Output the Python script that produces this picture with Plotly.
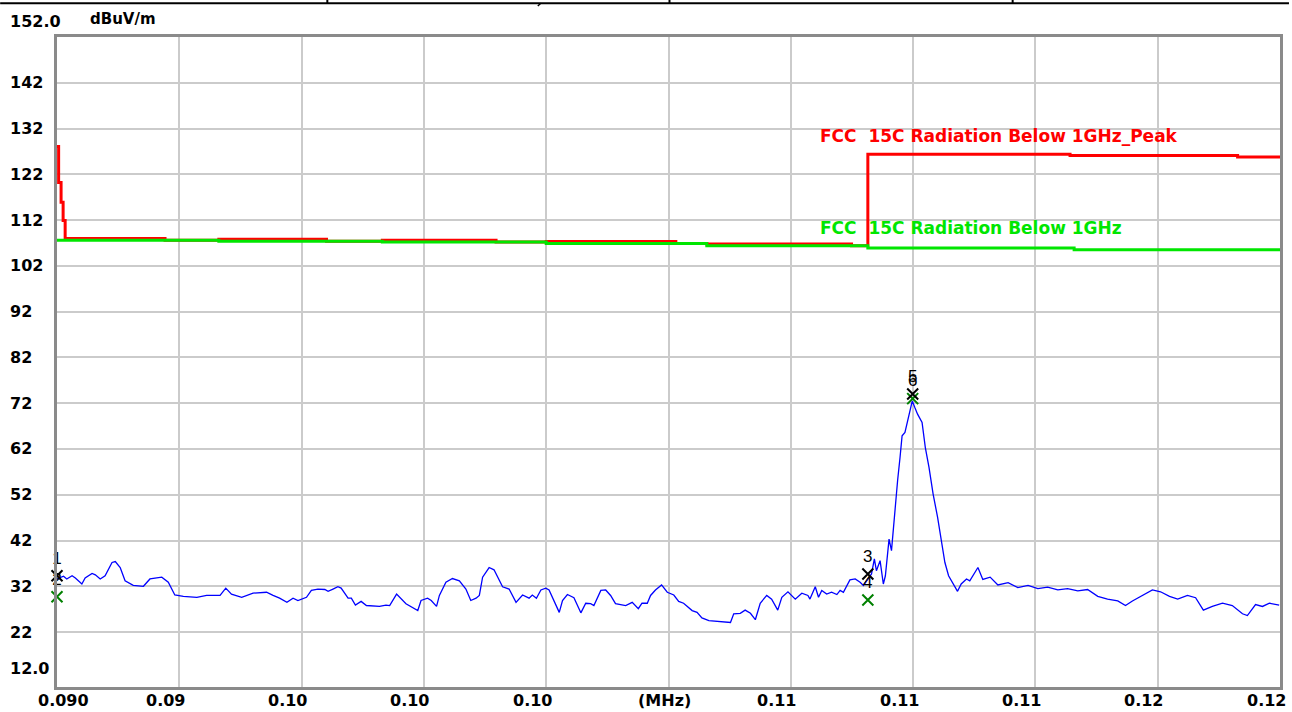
import plotly.graph_objects as go

# ---------------- data ----------------
trace_freq_khz = [
    90.00, 90.16, 90.24, 90.37, 90.45, 90.61, 90.69, 90.86, 90.94, 91.06, 91.18, 91.35, 91.43, 91.55,
    91.67, 91.87, 92.12, 92.28, 92.57, 92.73, 92.89, 93.10, 93.43, 93.67, 94.00, 94.14, 94.28, 94.53,
    94.81, 95.14, 95.30, 95.46, 95.64, 95.79, 95.91, 96.12, 96.24, 96.40, 96.57, 96.65, 96.77, 96.89,
    96.97, 97.14, 97.22, 97.32, 97.46, 97.59, 97.91, 98.07, 98.16, 98.33, 98.56, 98.85, 98.93, 99.09,
    99.18, 99.31, 99.38, 99.54, 99.70, 99.87, 100.03, 100.15, 100.28, 100.36, 100.44, 100.60, 100.72,
    100.85, 100.93, 101.09, 101.26, 101.42, 101.58, 101.66, 101.76, 101.87, 101.99, 102.07, 102.19,
    102.32, 102.40, 102.52, 102.68, 102.85, 102.97, 103.09, 103.17, 103.34, 103.46, 103.58, 103.70,
    103.95, 104.11, 104.26, 104.35, 104.48, 104.56, 104.68, 104.83, 104.97, 105.13, 105.25, 105.37,
    105.58, 105.70, 105.82, 105.99, 106.31, 106.52, 106.60, 106.76, 106.88, 107.01, 107.13, 107.25,
    107.41, 107.53, 107.68, 107.78, 107.93, 108.11, 108.27, 108.42, 108.47, 108.60, 108.68, 108.76,
    108.88, 109.00, 109.13, 109.21, 109.29, 109.45, 109.58, 109.70, 109.78, 109.90, 109.98, 110.05,
    110.10, 110.19, 110.27, 110.32, 110.41, 110.47, 110.55, 110.62, 110.68, 110.73, 110.80, 110.86,
    110.92, 110.98, 111.04, 111.11, 111.22, 111.30, 111.39, 111.49, 111.60, 111.69, 111.78, 111.87,
    111.98, 112.09, 112.18, 112.31, 112.39, 112.51, 112.59, 112.71, 112.89, 113.08, 113.33, 113.57,
    113.82, 114.06, 114.30, 114.55, 114.79, 115.04, 115.28, 115.53, 115.77, 116.02, 116.21, 116.38,
    116.63, 116.87, 117.07, 117.29, 117.49, 117.73, 117.93, 118.12, 118.34, 118.59, 118.83, 119.08,
    119.20, 119.40, 119.57, 119.74, 119.98,
]
trace_level = [
    33.6, 34.2, 33.6, 34.3, 33.8, 32.5, 33.8, 34.8, 34.5, 33.6, 34.3, 37.2, 37.4, 36.1,
    33.2, 32.2, 32.0, 33.6, 34.0, 32.9, 30.1, 29.8, 29.6, 30.0, 30.0, 31.6, 30.3, 29.6,
    30.5, 30.7, 30.0, 29.4, 28.5, 29.4, 28.9, 29.6, 31.1, 31.4, 31.3, 30.9, 31.4, 31.9,
    31.6, 29.4, 29.4, 27.9, 28.7, 27.8, 27.6, 27.9, 27.8, 30.3, 28.2, 26.7, 28.9, 29.4,
    28.9, 27.6, 30.0, 32.9, 33.7, 33.2, 31.4, 28.9, 29.4, 30.0, 34.0, 36.1, 35.6,
    33.2, 31.9, 31.4, 28.5, 30.1, 29.4, 30.1, 29.4, 31.2, 31.6, 31.2, 29.0,
    26.3, 28.9, 30.2, 29.5, 26.2, 28.3, 28.2, 27.8, 31.1, 31.2, 30.0, 28.2,
    27.8, 28.5, 27.1, 28.3, 28.3, 30.0, 31.2, 32.3, 30.7, 30.1, 28.7, 28.3,
    26.7, 26.3, 25.1, 24.5, 24.3, 24.1, 26.0, 26.1, 26.8, 26.1, 24.7, 28.3,
    30.0, 29.2, 26.8, 29.6, 30.8, 29.2, 30.5, 30.0, 29.2, 31.9, 29.6, 31.1,
    30.3, 30.7, 30.2, 31.1, 30.7, 33.4, 33.6, 32.9, 32.2, 33.6, 34.7, 38.0,
    35.4, 37.6, 32.5, 34.3, 42.3, 39.8, 48.5, 55.1, 60.2, 64.9, 65.6, 67.8,
    70.4, 72.5, 71.1, 69.6, 67.8, 62.3, 58.0, 52.2, 47.1, 42.3, 37.2, 34.3,
    32.5, 30.9, 32.5, 33.6, 33.2, 35.1, 36.1, 33.5, 34.0, 32.3, 32.8, 31.7,
    32.2, 31.5, 31.8, 31.2, 31.5, 31.0, 31.3, 29.8, 29.2, 28.8, 27.8, 28.8,
    30.0, 31.2, 30.8, 29.8, 29.2, 30.0, 29.5, 26.8, 27.6, 28.3, 27.8, 26.0,
    25.6, 28.0, 27.6, 28.3, 27.9,
]

limit_peak_freq_khz = [90.00, 90.04, 90.10, 90.15, 90.20, 92.65, 93.97, 96.61, 97.98, 100.77,
                       102.00, 105.18, 105.94, 109.49, 109.89, 114.85, 118.96, 120.00]
limit_peak_level = [128.1, 120.2, 115.9, 111.9, 108.0, 107.6, 107.8, 107.4, 107.6, 107.2,
                    107.3, 106.9, 106.8, 106.4, 126.4, 126.1, 125.8, 125.8]

limit_avg_freq_khz = [90.00, 93.97, 97.98, 102.00, 105.94, 109.89, 114.95, 120.00]
limit_avg_level = [107.6, 107.4, 107.2, 106.9, 106.4, 105.9, 105.5, 105.5]

peak_marker_ids = ["1", "3", "5"]
peak_marker_freq_khz = [90.00, 109.89, 110.99]
peak_marker_level = [34.3, 34.7, 74.0]

qp_marker_ids = ["2", "4", "6"]
qp_marker_freq_khz = [90.00, 109.89, 110.99]
qp_marker_level = [29.7, 29.0, 73.0]

x_tick_khz = [90, 93, 96, 99, 102, 105, 108, 111, 114, 117, 120]
x_tick_labels = ["0.090", "0.09", "0.10", "0.10", "0.10", "(MHz)", "0.11", "0.11", "0.11", "0.12", "0.12"]
y_tick_values = [152, 142, 132, 122, 112, 102, 92, 82, 72, 62, 52, 42, 32, 22, 12]
y_tick_labels = ["152.0", "142", "132", "122", "112", "102", "92", "82", "72", "62", "52", "42", "32", "22", "12.0"]
y_unit = "dBuV/m"
peak_limit_name = "FCC  15C Radiation Below 1GHz_Peak"
avg_limit_name = "FCC  15C Radiation Below 1GHz"

# ---------------- layout helpers ----------------
W, H = 1292, 712
L, R, T, B = 57, 9, 37, 25
PW, PH = W - L - R, H - T - B


def px_x(px):
    return (px - L) / PW


def px_y(py):
    return (T + PH - py) / PH


def mhz(vals):
    return [v / 1000.0 for v in vals]


FONT = "DejaVu Sans"
RED = "#ff0000"
GREEN = "#00e600"

fig = go.Figure()

fig.add_trace(go.Scatter(x=mhz(limit_peak_freq_khz), y=limit_peak_level, mode="lines",
                         line=dict(color=RED, width=3, shape="hv"), hoverinfo="skip"))
fig.add_trace(go.Scatter(x=mhz(limit_avg_freq_khz), y=limit_avg_level, mode="lines",
                         line=dict(color=GREEN, width=3, shape="hv"), hoverinfo="skip"))
fig.add_trace(go.Scatter(x=mhz(trace_freq_khz), y=trace_level, mode="lines",
                         line=dict(color="#0000ff", width=1.3)))
fig.add_trace(go.Scatter(x=mhz(qp_marker_freq_khz), y=qp_marker_level, mode="markers+text",
                         text=qp_marker_ids, textposition="top center",
                         textfont=dict(family="Liberation Sans", size=17, color="black"),
                         marker=dict(symbol="x-thin", size=11, line=dict(color="#008000", width=2)),
                         cliponaxis=False))
fig.add_trace(go.Scatter(x=mhz(peak_marker_freq_khz), y=peak_marker_level, mode="markers+text",
                         text=peak_marker_ids, textposition="top center",
                         textfont=dict(family="Liberation Sans", size=17, color="black"),
                         marker=dict(symbol="x-thin", size=11, line=dict(color="black", width=2)),
                         cliponaxis=False))

annotations = []
# y labels (left aligned at the page edge)
for v, lab in zip(y_tick_values, y_tick_labels):
    ys = 0
    if lab == "152.0":
        ys = 16
    elif lab == "12.0":
        ys = 9
    annotations.append(dict(x=px_x(8), xref="paper", y=v, yref="y", yshift=ys,
                            text=lab, showarrow=False, xanchor="left", yanchor="middle",
                            font=dict(family=FONT, size=16, color="black", weight="bold")))
annotations.append(dict(x=px_x(88), xref="paper", y=px_y(19), yref="paper", text=y_unit,
                        showarrow=False, xanchor="left", yanchor="middle",
                        font=dict(family=FONT, size=15, color="black", weight="bold")))
# x labels
for i, (f, lab) in enumerate(zip(x_tick_khz, x_tick_labels)):
    if i == 0:
        xa, xs = "left", -21
    elif lab == "(MHz)":
        xa, xs = "center", -4
    else:
        xa, xs = "center", -14
    annotations.append(dict(x=f / 1000.0, xref="x", y=px_y(700), yref="paper", xshift=xs,
                            text=lab, showarrow=False, xanchor=xa, yanchor="middle",
                            font=dict(family=FONT, size=16, color="black", weight="bold")))
# limit names
annotations.append(dict(x=px_x(820), xref="paper", y=px_y(136), yref="paper", text=peak_limit_name,
                        showarrow=False, xanchor="left", yanchor="middle",
                        font=dict(family=FONT, size=17, color=RED, weight="bold")))
annotations.append(dict(x=px_x(820), xref="paper", y=px_y(228), yref="paper", text=avg_limit_name,
                        showarrow=False, xanchor="left", yanchor="middle",
                        font=dict(family=FONT, size=17, color=GREEN, weight="bold")))

shapes = [
    dict(type="line", xref="paper", yref="paper", x0=px_x(0), x1=px_x(W), y0=px_y(3.3), y1=px_y(3.3),
         line=dict(color="black", width=2)),
]
for vx in [328, 671, 1015]:
    shapes.append(dict(type="line", xref="paper", yref="paper", x0=px_x(vx), x1=px_x(vx),
                       y0=px_y(0), y1=px_y(3.3), line=dict(color="black", width=2)))
shapes.append(dict(type="line", xref="paper", yref="paper", x0=px_x(539), x1=px_x(542),
                   y0=px_y(6), y1=px_y(3.3), line=dict(color="black", width=1.5)))

fig.update_layout(
    width=W, height=H,
    margin=dict(l=L, r=R, t=T, b=B),
    paper_bgcolor="white", plot_bgcolor="white",
    showlegend=False,
    annotations=annotations,
    shapes=shapes,
    xaxis=dict(range=[0.090, 0.120], tickvals=mhz(x_tick_khz[1:-1]), showticklabels=False,
               showgrid=True, gridcolor="#cbcbcb", gridwidth=2, zeroline=False,
               showline=True, linecolor="#8a8a8a", linewidth=3, mirror=True, ticks=""),
    yaxis=dict(range=[10.0, 152.0], tickvals=y_tick_values[1:-1], showticklabels=False,
               showgrid=True, gridcolor="#cbcbcb", gridwidth=2, zeroline=False,
               showline=True, linecolor="#8a8a8a", linewidth=3, mirror=True, ticks=""),
)

fig.write_html("out.html", config={"displayModeBar": False},
               post_script="document.body.style.margin='0';document.body.style.overflow='hidden';")
